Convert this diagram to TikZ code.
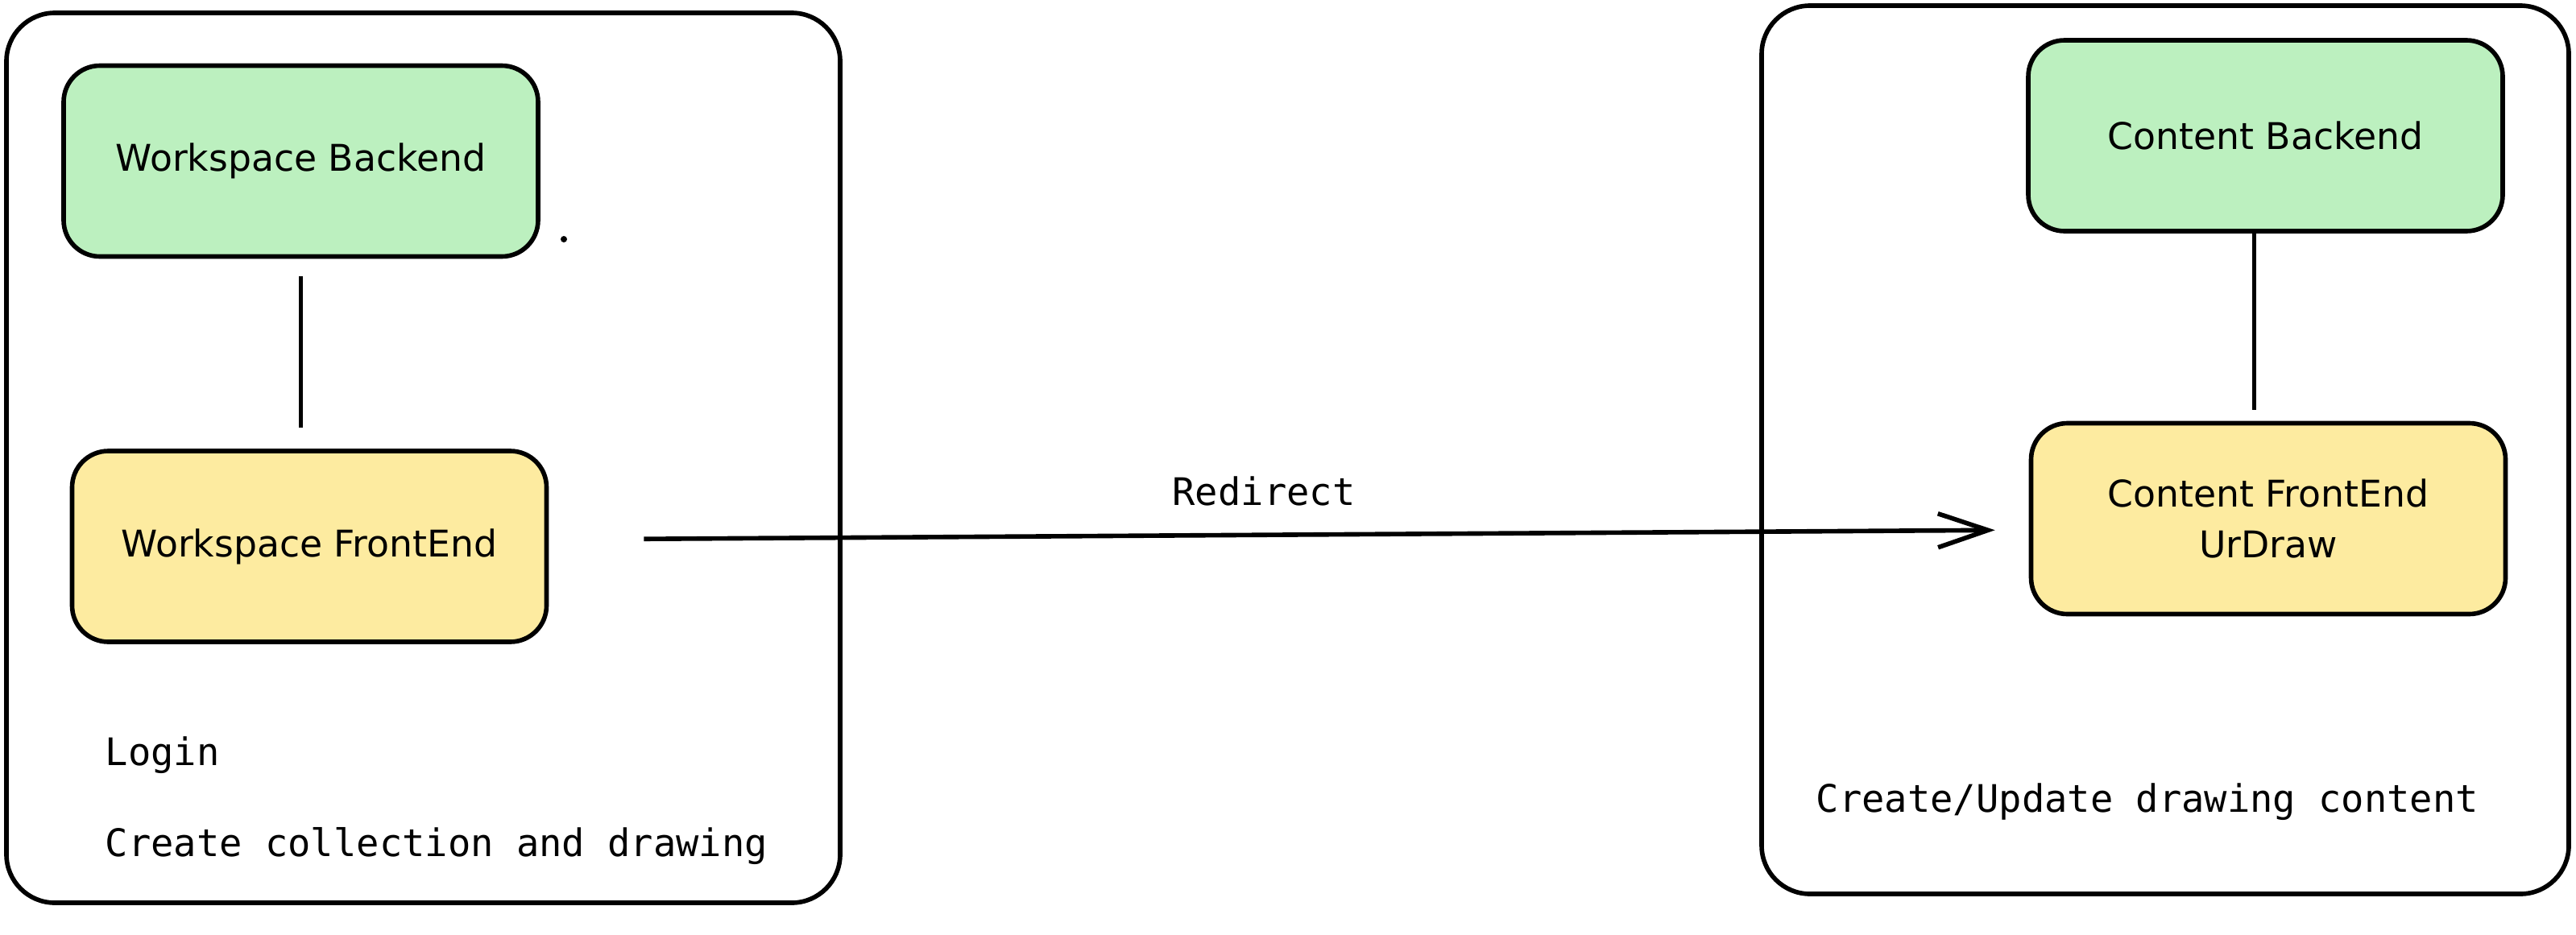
\documentclass[tikz,border=0pt]{standalone}
\usepackage{fontspec}
\setmainfont{DejaVu Sans}
\setmonofont{DejaVu Sans Mono}
\usetikzlibrary{arrows.meta}
\definecolor{backendgreen}{HTML}{BCF0BF}
\definecolor{frontendyellow}{HTML}{FDEBA0}

\begin{document}
\begin{tikzpicture}[line width=1.6pt,
        box/.style={draw,rounded corners=0.45cm,minimum width=5.89cm,minimum height=2.37cm,align=center,font=\fontsize{13}{18}\selectfont},
        backend/.style={box,fill=backendgreen},
        frontend/.style={box,fill=frontendyellow},
        note/.style={inner sep=0pt,anchor=base west,font=\ttfamily\fontsize{13.4}{16}\selectfont}]
        \useasboundingbox (0,0) rectangle (31.98,-11.60);
        \draw[rounded corners=0.6cm] (0.08,-0.16) rectangle (10.43,-11.21);
        \draw[rounded corners=0.6cm] (21.87,-0.07) rectangle (31.89,-11.10);
        \draw (3.735,-2.00)  node[backend] (wb) {Workspace Backend};
        \draw (3.84,-6.785)  node[frontend] (wf) {Workspace FrontEnd};
        \draw (28.125,-1.685) node[backend] (cb) {Content Backend};
        \draw (28.16,-6.44)  node[frontend] (cf) {Content FrontEnd\\UrDraw};
        \node[note] (login) at (1.28,-9.50) {Login};
        \node[note] (create) at (1.28,-10.63) {Create collection and drawing};
        \node[note] (update) at (22.52,-10.08) {Create/Update drawing content};
        \node[note,anchor=base] (redirect) at (15.69,-6.27) {Redirect};
        \fill (7.00,-2.97) circle (0.04);
        \draw[shorten <=0.22cm, shorten >=0.26cm] (wb.south) -- (wb.south |- wf.north);
        \draw[shorten >=0.14cm] ([xshift=-0.14cm]cb.south) -- ([xshift=-0.14cm]cb.south |- cf.north);
        \draw[-{Straight Barb[length=0.62cm,width=0.42cm]}, shorten <=1.18cm, shorten >=0.42cm]
              ([yshift=0.085cm]wf.east) -- ([yshift=-0.14cm]cf.west);
\end{tikzpicture}
\end{document}
